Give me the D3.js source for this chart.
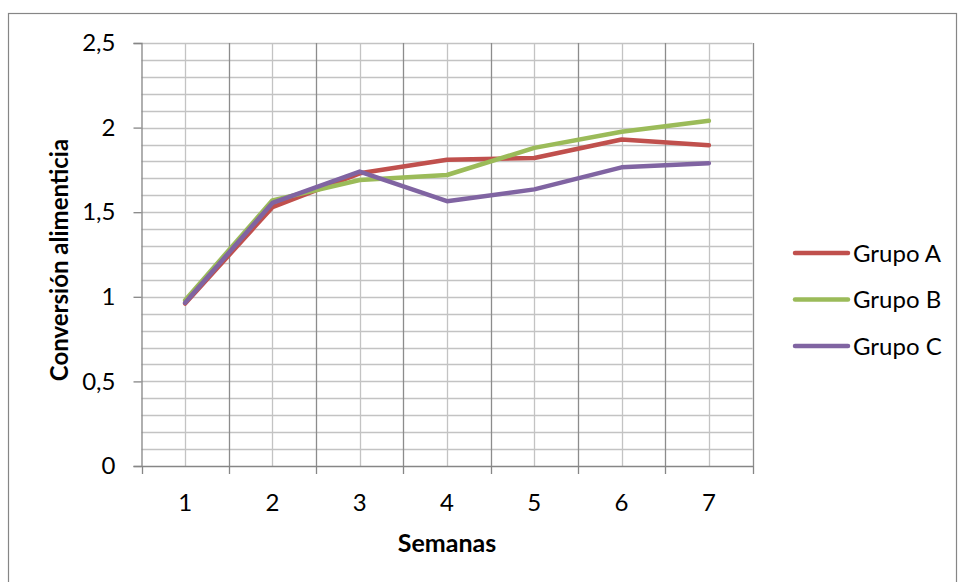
<!DOCTYPE html>
<html>
<head>
<meta charset="utf-8">
<script src="https://cdn.jsdelivr.net/npm/d3@7"></script>
<style>
  html, body { margin: 0; padding: 0; background: #fff; }
  svg { display: block; }
  text { font-family: Lato, "Open Sans", sans-serif; fill: #000; }
</style>
</head>
<body>
<svg id="chart" width="958" height="582"></svg>
<script>
// Weekly feed conversion per group
const semanas = ["1", "2", "3", "4", "5", "6", "7"];
const grupoA = [0.96, 1.53, 1.73, 1.81, 1.82, 1.93, 1.895];
const grupoB = [0.98, 1.57, 1.69, 1.72, 1.88, 1.975, 2.04];
const grupoC = [0.965, 1.555, 1.74, 1.565, 1.635, 1.765, 1.79];
const seriesNames = ["Grupo A", "Grupo B", "Grupo C"];
const seriesColors = ["#C0504D", "#9BBB59", "#8064A2"];
const yTicks = [0, 0.5, 1, 1.5, 2, 2.5];
const yTickLabels = ["0", "0,5", "1", "1,5", "2", "2,5"];

const series = [grupoA, grupoB, grupoC].map((vals, i) => ({
  name: seriesNames[i], color: seriesColors[i], values: vals
}));

const FONT = "Lato, 'Open Sans', sans-serif";
const svg = d3.select("#chart");
const plot = { left: 141.5, right: 752.5, top: 43, bottom: 466 };

// Outer chart frame
svg.append("rect")
  .attr("x", 8.5).attr("y", 13.5)
  .attr("width", 948).attr("height", 600)
  .attr("fill", "#fff").attr("stroke", "#868686").attr("stroke-width", 1.2);

const x = d3.scaleBand().domain(semanas).range([plot.left, plot.right]).paddingInner(0).paddingOuter(0);
const y = d3.scaleLinear().domain([0, 2.5]).range([plot.bottom, plot.top]);

// Horizontal gridlines every 0.1
const minor = d3.range(1, 26).map(k => k / 10);
svg.append("g").selectAll("line").data(minor).join("line")
  .attr("x1", plot.left).attr("x2", plot.right)
  .attr("y1", d => Math.round(y(d)) + 0.5).attr("y2", d => Math.round(y(d)) + 0.5)
  .attr("stroke", "#c3c3c3").attr("stroke-width", 1.3);

// Vertical gridlines at category centers (light) and boundaries (dark)
svg.append("g").selectAll("line").data(semanas).join("line")
  .attr("x1", d => Math.round(x(d) + x.bandwidth() / 2) + 0.5)
  .attr("x2", d => Math.round(x(d) + x.bandwidth() / 2) + 0.5)
  .attr("y1", plot.top).attr("y2", plot.bottom)
  .attr("stroke", "#c3c3c3").attr("stroke-width", 1.3);

const bounds = semanas.slice(1).map(d => x(d)).concat([plot.right]);
svg.append("g").selectAll("line").data(bounds).join("line")
  .attr("x1", d => Math.round(d) + 0.5).attr("x2", d => Math.round(d) + 0.5)
  .attr("y1", plot.top).attr("y2", plot.bottom)
  .attr("stroke", "#8c8c8c").attr("stroke-width", 1.3);

// Y axis
const yAxis = svg.append("g")
  .attr("transform", `translate(${plot.left},0)`)
  .call(d3.axisLeft(y).tickValues(yTicks).tickSize(8).tickPadding(18)
    .tickFormat((d, i) => yTickLabels[i]));
yAxis.select(".domain").attr("stroke", "#868686").attr("stroke-width", 1.3);
yAxis.selectAll(".tick line").attr("stroke", "#868686").attr("stroke-width", 1.3);
yAxis.selectAll(".tick text")
  .style("font-family", FONT)
  .style("font-size", "24px").attr("fill", "#000");

// X axis with ticks on category boundaries
const xAxis = svg.append("g")
  .attr("transform", `translate(0,${plot.bottom})`)
  .call(d3.axisBottom(x).tickSize(0).tickPadding(28));
xAxis.select(".domain").attr("stroke", "#868686").attr("stroke-width", 1.3);
xAxis.selectAll(".tick text")
  .style("font-family", FONT)
  .style("font-size", "24px").attr("fill", "#000");
xAxis.append("g").selectAll("line")
  .data([plot.left].concat(bounds)).join("line")
  .attr("x1", d => Math.round(d) + 0.5).attr("x2", d => Math.round(d) + 0.5)
  .attr("y1", 0).attr("y2", 8)
  .attr("stroke", "#868686").attr("stroke-width", 1.3);

// Series lines
const line = d3.line()
  .x((d, i) => x(semanas[i]) + x.bandwidth() / 2)
  .y(d => y(d));

svg.append("g").selectAll("path").data(series).join("path")
  .attr("d", d => line(d.values))
  .attr("fill", "none")
  .attr("stroke", d => d.color)
  .attr("stroke-width", 4.5)
  .attr("stroke-linejoin", "round")
  .attr("stroke-linecap", "round");

// Axis titles
svg.append("text")
  .attr("transform", "translate(68,260) rotate(-90)")
  .attr("text-anchor", "middle")
  .style("font-size", "24px").style("font-weight", "bold")
  .text("Conversión alimenticia");

svg.append("text")
  .attr("x", 447).attr("y", 552)
  .attr("text-anchor", "middle")
  .style("font-size", "25px").style("font-weight", "bold")
  .text("Semanas");

// Legend
const legend = svg.append("g").selectAll("g").data(series).join("g")
  .attr("transform", (d, i) => `translate(0,${253 + i * 46.5})`);
legend.append("line")
  .attr("x1", 795).attr("x2", 848).attr("y1", 0).attr("y2", 0)
  .attr("stroke", d => d.color).attr("stroke-width", 4.5).attr("stroke-linecap", "round");
legend.append("text")
  .attr("x", 853).attr("y", 0).attr("dy", "0.36em")
  .style("font-size", "24px")
  .text(d => d.name);
</script>
</body>
</html>
